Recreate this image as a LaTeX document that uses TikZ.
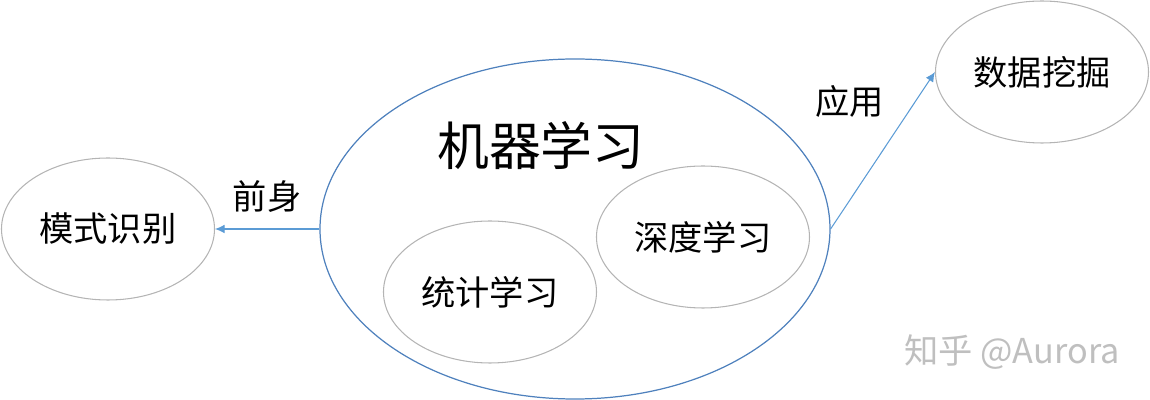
\documentclass[tikz,border=0pt]{standalone}
\usepackage{fontspec}
\newfontfamily\cjk{Noto Sans CJK SC}
\usepackage{tikz}
\usetikzlibrary{shapes.geometric, arrows.meta, positioning}
\definecolor{mlblue}{RGB}{79,129,189}
\definecolor{linkblue}{RGB}{91,155,213}
\definecolor{rimgray}{RGB}{180,180,180}
\tikzstyle{field} = [ellipse, minimum width=4.26cm, minimum height=2.84cm, inner sep=0pt, draw=rimgray, line width=0.6pt, font=\cjk\fontsize{19.5}{20}\selectfont]
\tikzstyle{mainfield} = [ellipse, minimum width=10.2cm, minimum height=6.8cm, inner sep=0pt, draw=mlblue, line width=0.7pt]
\tikzstyle{title} = [font=\cjk\fontsize{29.5}{30}\selectfont]
\tikzstyle{tag} = [font=\cjk\fontsize{19.5}{20}\selectfont]
\tikzstyle{arrow} = [draw=linkblue, line width=0.6pt, ->, >={Latex[length=5.5pt,width=5pt]}]

\begin{document}
\begin{tikzpicture}[node distance=9.34cm]
\useasboundingbox (-11.5,-3.42) rectangle (11.5,4.58);

        \node (ml) [mainfield] {};
        \node (mltitle) [title] at (-0.68,1.66) {机器学习};
        \node (stat) [field] at (-1.7,-1.26) {统计学习};
        \node (deep) [field] at (2.56,-0.16) {深度学习};
        \node (pattern) [field, left of=ml] {模式识别};
        \node (mining) [field, right of=ml, yshift=3.14cm] {数据挖掘};
        \node (mark) [tag, text=black!25] at (8.74,-2.46) {知乎 @Aurora};

        \draw [arrow] (ml) -- node[tag, text=black, yshift=0.64cm] {前身} (pattern);
        \draw [arrow] (ml.east) -- node[tag, xshift=-0.66cm, yshift=0.98cm] {应用} (mining.west);

\end{tikzpicture}
\end{document}
